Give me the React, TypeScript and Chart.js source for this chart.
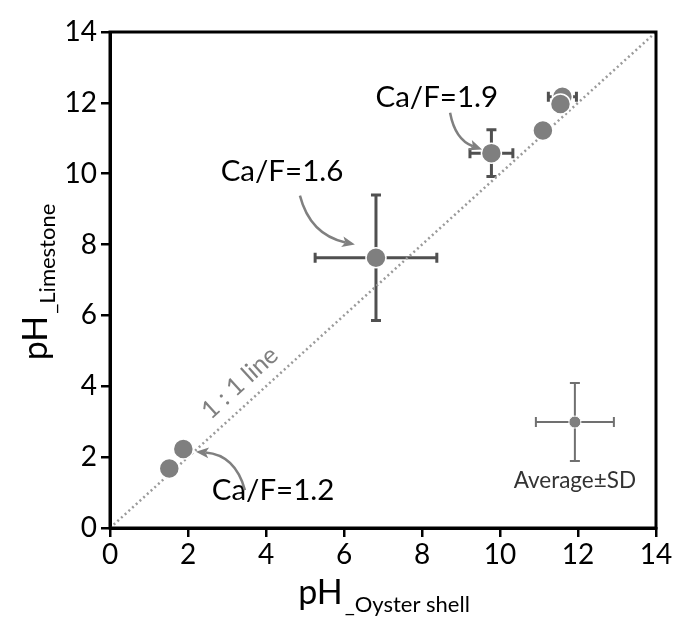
import React, { useEffect, useRef } from "react";
import { Chart, registerables } from "chart.js";

Chart.register(...registerables);

const xOyster = [1.52, 1.88, 6.82, 9.78, 11.1, 11.6, 11.55];
const yLimestone = [1.68, 2.23, 7.63, 10.58, 11.22, 12.17, 11.97];
const xErr = [0, 0, 1.56, 0.55, 0, 0.36, 0];
const yErr = [0, 0, 1.77, 0.66, 0, 0, 0];

const avgX = [11.92];
const avgY = [2.99];
const avgXErr = [1.0];
const avgYErr = [1.1];

const oneToOne = [0, 14];
const tickValues = [0, 2, 4, 6, 8, 10, 12, 14];

const FONT = "Lato, 'Open Sans', sans-serif";

const labels = [
  { text: "Ca/F=1.9", x: 8.38, y: 12.15 },
  { text: "Ca/F=1.6", x: 4.41, y: 10.06 },
  { text: "Ca/F=1.2", x: 4.18, y: 1.07 },
];
const arrows = [
  { from: [8.72, 11.72], ctrl: [8.85, 10.96], to: [9.54, 10.68] },
  { from: [4.87, 9.38], ctrl: [5.13, 8.28], to: [6.28, 8.0] },
  { from: [3.46, 1.07], ctrl: [3.21, 2.06], to: [2.2, 2.15] },
];

const errorBarPlugin = {
  id: "errorBars",
  beforeDatasetsDraw(chart: any) {
    const { ctx, scales } = chart;
    const xs = scales.x;
    const ys = scales.y;
    const drawBars = (xv: number[], yv: number[], xe: number[], ye: number[], color: string, lw: number) => {
      ctx.save();
      ctx.strokeStyle = color;
      ctx.lineWidth = lw;
      const cap = 5;
      for (let i = 0; i < xv.length; i++) {
        const px = xs.getPixelForValue(xv[i]);
        const py = ys.getPixelForValue(yv[i]);
        if (xe[i] > 0) {
          const l = xs.getPixelForValue(xv[i] - xe[i]);
          const r = xs.getPixelForValue(xv[i] + xe[i]);
          ctx.beginPath();
          ctx.moveTo(l, py); ctx.lineTo(r, py);
          ctx.moveTo(l, py - cap); ctx.lineTo(l, py + cap);
          ctx.moveTo(r, py - cap); ctx.lineTo(r, py + cap);
          ctx.stroke();
        }
        if (ye[i] > 0) {
          const t = ys.getPixelForValue(yv[i] + ye[i]);
          const b = ys.getPixelForValue(yv[i] - ye[i]);
          ctx.beginPath();
          ctx.moveTo(px, t); ctx.lineTo(px, b);
          ctx.moveTo(px - cap, t); ctx.lineTo(px + cap, t);
          ctx.moveTo(px - cap, b); ctx.lineTo(px + cap, b);
          ctx.stroke();
        }
      }
      ctx.restore();
    };
    drawBars(xOyster, yLimestone, xErr, yErr, "#505050", 3);
    drawBars(avgX, avgY, avgXErr, avgYErr, "#707070", 2);
  },
};

const annotationPlugin = {
  id: "annotations",
  afterDraw(chart: any) {
    const { ctx, scales, chartArea } = chart;
    const xs = scales.x;
    const ys = scales.y;
    const P = (p: number[]) => [xs.getPixelForValue(p[0]), ys.getPixelForValue(p[1])];
    ctx.save();
    // frame
    ctx.strokeStyle = "#000";
    ctx.lineWidth = 3;
    ctx.strokeRect(chartArea.left, chartArea.top, chartArea.right - chartArea.left, chartArea.bottom - chartArea.top);

    // labels
    ctx.fillStyle = "#000";
    ctx.textAlign = "center";
    ctx.textBaseline = "middle";
    ctx.font = `29.5px ${FONT}`;
    labels.forEach((l) => {
      const [px, py] = P([l.x, l.y]);
      ctx.fillText(l.text, px, py);
    });

    // arrows
    ctx.strokeStyle = "#808080";
    ctx.fillStyle = "#808080";
    ctx.lineWidth = 2.5;
    arrows.forEach((a) => {
      const [fx, fy] = P(a.from);
      const [cx, cy] = P(a.ctrl);
      const [tx, ty] = P(a.to);
      const ang = Math.atan2(ty - cy, tx - cx);
      const hl = 14;
      const bx = tx - Math.cos(ang) * hl * 0.7;
      const by = ty - Math.sin(ang) * hl * 0.7;
      ctx.beginPath();
      ctx.moveTo(fx, fy);
      ctx.quadraticCurveTo(cx, cy, bx, by);
      ctx.stroke();
      ctx.beginPath();
      ctx.moveTo(tx, ty);
      ctx.lineTo(tx - hl * Math.cos(ang - 0.4), ty - hl * Math.sin(ang - 0.4));
      ctx.lineTo(bx, by);
      ctx.lineTo(tx - hl * Math.cos(ang + 0.4), ty - hl * Math.sin(ang + 0.4));
      ctx.closePath();
      ctx.fill();
    });

    // 1:1 line label
    const [lx, ly] = P([3.33, 4.1]);
    const [ax0, ay0] = P([0, 0]);
    const [ax1, ay1] = P([14, 14]);
    const lineAng = Math.atan2(ay1 - ay0, ax1 - ax0);
    ctx.save();
    ctx.translate(lx, ly);
    ctx.rotate(lineAng);
    ctx.fillStyle = "#808080";
    ctx.font = `25px ${FONT}`;
    ctx.fillText("1 : 1 line", 0, 0);
    ctx.restore();

    // Average ± SD
    const [mx, my] = P([11.92, 1.33]);
    ctx.fillStyle = "#333";
    ctx.font = `22.5px ${FONT}`;
    ctx.fillText("Average\u00B1SD", mx, my);

    // axis titles
    const measure = (main: string, sub: string) => {
      ctx.font = `34px ${FONT}`;
      const w1 = ctx.measureText(main).width;
      ctx.font = `22px ${FONT}`;
      const w2 = ctx.measureText(sub).width;
      return { w1, w2 };
    };
    ctx.textAlign = "left";
    ctx.textBaseline = "alphabetic";
    ctx.fillStyle = "#000";
    {
      const { w1, w2 } = measure("pH", "_Oyster shell");
      const cxp = (chartArea.left + chartArea.right) / 2;
      const start = cxp - (w1 + w2) / 2;
      const base = 604;
      ctx.font = `34px ${FONT}`;
      ctx.fillText("pH", start, base);
      ctx.font = `22px ${FONT}`;
      ctx.fillText("_Oyster shell", start + w1 + 2, base + 8);
    }
    {
      const { w1, w2 } = measure("pH", "_Limestone");
      const cyp = (chartArea.top + chartArea.bottom) / 2 + 3;
      ctx.save();
      ctx.translate(47, cyp + (w1 + w2) / 2);
      ctx.rotate(-Math.PI / 2);
      ctx.font = `34px ${FONT}`;
      ctx.fillText("pH", 0, 0);
      ctx.font = `22px ${FONT}`;
      ctx.fillText("_Limestone", w1 + 2, 8);
      ctx.restore();
    }
    ctx.restore();
  },
};

export default function App() {
  const ref = useRef<HTMLCanvasElement>(null);
  useEffect(() => {
    if (!ref.current) return;
    const points = xOyster.map((x, i) => ({ x, y: yLimestone[i] }));
    const avg = avgX.map((x, i) => ({ x, y: avgY[i] }));
    const line = oneToOne.map((v) => ({ x: v, y: v }));
    const chart = new Chart(ref.current, {
      type: "scatter",
      data: {
        datasets: [
          {
            type: "line",
            data: line,
            borderColor: "#9a9a9a",
            borderWidth: 2.5,
            borderDash: [2, 3],
            pointRadius: 0,
            showLine: true,
            order: 3,
          } as any,
          {
            data: points,
            backgroundColor: "#7f7f7f",
            borderColor: "#ffffff",
            borderWidth: 1.5,
            pointRadius: 10,
            order: 1,
          },
          {
            data: avg,
            backgroundColor: "#7f7f7f",
            borderColor: "#ffffff",
            borderWidth: 1,
            pointRadius: 6,
            order: 2,
          },
        ],
      },
      options: {
        animation: false,
        responsive: false,
        maintainAspectRatio: false,
        layout: { padding: { top: 32, right: 19, left: 0, bottom: 0 } },
        plugins: { legend: { display: false }, tooltip: { enabled: false } },
        scales: {
          x: {
            type: "linear",
            min: 0,
            max: 14,
            afterBuildTicks: (s: any) => { s.ticks = tickValues.map((v) => ({ value: v })); },
            afterFit: (s: any) => { s.height = 93; },
            ticks: { color: "#000", font: { size: 28, family: FONT }, padding: 1 },
            grid: { display: true, drawOnChartArea: false, drawTicks: true, tickLength: 9, color: "#000", lineWidth: 2.5 },
            border: { display: true, color: "#000", width: 3 },
          },
          y: {
            type: "linear",
            min: 0,
            max: 14,
            afterBuildTicks: (s: any) => { s.ticks = tickValues.map((v) => ({ value: v })); },
            afterFit: (s: any) => { s.width = 110; },
            ticks: { color: "#000", font: { size: 28, family: FONT }, padding: 4 },
            grid: { display: true, drawOnChartArea: false, drawTicks: true, tickLength: 9, color: "#000", lineWidth: 2.5 },
            border: { display: true, color: "#000", width: 3 },
          },
        },
      },
      plugins: [errorBarPlugin, annotationPlugin],
    });
    return () => chart.destroy();
  }, []);
  return (
    <div style={{ position: "fixed", left: 0, top: 0, width: 675, height: 621, background: "#fff" }}>
      <canvas ref={ref} width={675} height={621} style={{ width: 675, height: 621 }} />
    </div>
  );
}
